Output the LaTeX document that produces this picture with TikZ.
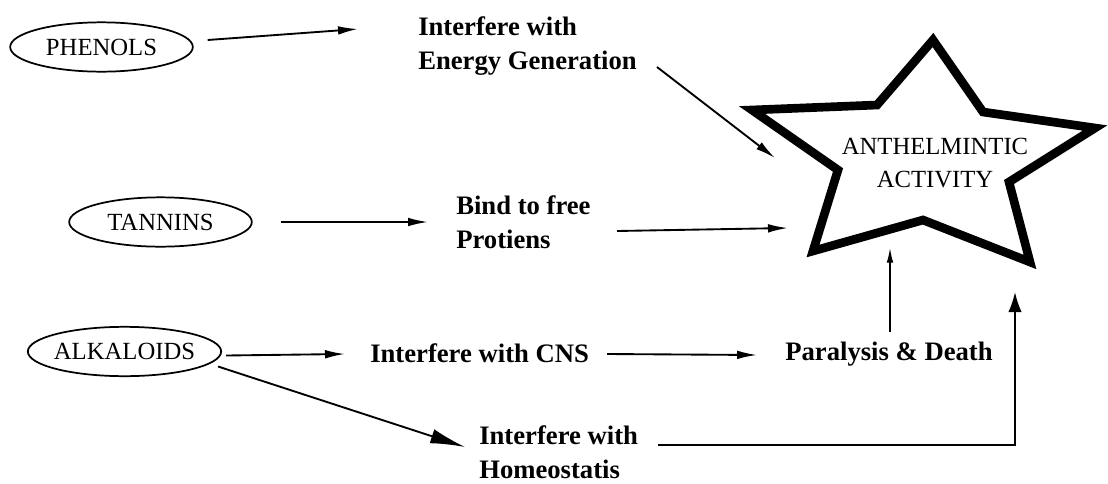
\documentclass[tikz,border=0pt]{standalone}
\usepackage{fontspec}
\setmainfont{Liberation Serif}
\usetikzlibrary{arrows.meta,calc,positioning,shapes.geometric}

\newcommand{\capsfont}{\fontsize{18.5}{24.75}\selectfont}
\newcommand{\effectfont}{\fontsize{20}{25.5}\selectfont\bfseries}

\begin{document}
\begin{tikzpicture}[x=0.75pt,y=-0.75pt,
    chem/.style={draw,ellipse,line width=1.3pt,inner sep=0pt,minimum height=37pt,font=\capsfont},
    effect/.style={align=left,inner sep=0pt,font=\effectfont},
    arr/.style={-{Latex[length=15pt,width=6.5pt]},line width=1.4pt},
    thinarr/.style={-{Latex[length=11pt,width=5pt]},line width=1pt},
    bigarr/.style={-{Latex[length=26pt,width=11pt]},line width=1.4pt},
    uparr/.style={-{Latex[length=15pt,width=10pt]},line width=1.4pt}]
  \useasboundingbox (0,0) rectangle (1108,483);

  % star with the target activity
  \draw[line width=6.5pt,line join=miter] (933,40) -- (983,112) -- (1095,128) -- (1009,182)
    -- (1030,262) -- (923,220) -- (813,251) -- (838,170) -- (752,110) -- (877,105) -- cycle;
  \node[font=\capsfont,align=center] (act) at (935,163) {ANTHELMINTIC\\ACTIVITY};
  \coordinate (inE) at (775,158);
  \coordinate (inB) at (788,228);
  \coordinate (inD) at (890,248);
  \coordinate (inH) at (1015,292);

  % compounds
  \node[chem,minimum width=137pt] (phenols) at (101.5,47) {PHENOLS};
  \node[chem,minimum width=137pt] (tannins) at (160.5,222) {TANNINS};
  \node[chem,minimum width=145pt,inner xsep=-2pt] (alkaloids) at (124.5,351.5) {ALKALOIDS};

  % effects
  \node[effect,anchor=west] (energy) at (418,46) {Interfere with\\Energy Generation};
  \node[effect,anchor=west] (bind) at (456,222) {Bind to free\\Protiens};
  \node[effect,anchor=west] (cns) at (370,353) {Interfere with CNS};
  \node[effect] (death) at (889,354) {Paralysis \& Death};
  \node[effect,anchor=west] (homeo) at (479,452) {Interfere with\\Homeostatis};

  \draw[arr] ($(phenols.east)+(14,-7)$) -- ($(energy.west)+(-60,-17)$);
  \draw[arr] ($(energy.west)+(239,21)$) -- (inE);
  \draw[arr,shorten <=21pt,shorten >=21pt] (tannins.east) -- (bind.west);
  \draw[arr] ($(bind.west)+(161,9)$) -- (inB);
  \draw[arr] ($(alkaloids.east)+(4,4)$) -- ($(cns.west)+(-25,1)$);
  \draw[bigarr] ($(alkaloids.east)+(-4,15)$) -- ($(homeo.west)+(-14,-5)$);
  \draw[arr] ($(cns.west)+(237,1)$) -- ($(death.west)+(-28,1)$);
  \draw[thinarr] ($(death.north)+(1,-10)$) -- (inD);
  \draw[uparr] ($(homeo.west)+(179,-7)$) -| (inH);
\end{tikzpicture}
\end{document}
